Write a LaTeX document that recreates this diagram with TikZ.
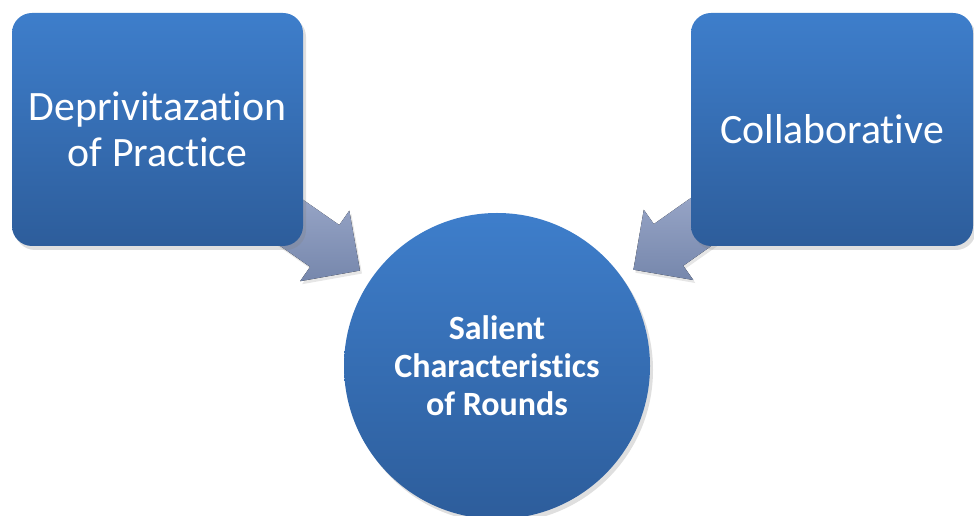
\documentclass[tikz,border=0pt]{standalone}
\usepackage{fontspec}
\setmainfont{Carlito}[RawFeature={-liga;-dlig;-clig;-calt}]
\usetikzlibrary{shadows,calc,backgrounds}
\definecolor{boxtop}{RGB}{62,126,203}
\definecolor{boxbot}{RGB}{45,93,155}
\definecolor{arrlight}{RGB}{158,171,204}
\definecolor{arrdark}{RGB}{118,135,172}
\begin{document}
\begin{tikzpicture}[x=1pt,y=1pt,
  softshadow/.style={drop shadow={opacity=0.25, shadow xshift=3pt, shadow yshift=-4pt}},
  blockbox/.style={rectangle, rounded corners=20pt, top color=boxtop, bottom color=boxbot,
    draw=none, minimum height=233pt, text=white, align=center,
    font=\fontsize{41.8}{46}\selectfont, inner sep=0pt, softshadow},
  hub/.style={circle, top color=boxtop, bottom color=boxbot, draw=none,
    minimum size=306pt, text=white, align=center, inner sep=0pt,
    font=\fontsize{34}{38}\selectfont\bfseries, softshadow},
  blockarrow/.style={top color=arrlight, bottom color=arrdark, draw=none,
    drop shadow={opacity=0.2, shadow xshift=2pt, shadow yshift=-3pt}}
]
\useasboundingbox (0,0) rectangle (974,516);
\clip (0,0) rectangle (974,516);

\node[blockbox, minimum width=291pt] (L) at (157.5,386.5) {Deprivitazation\\of Practice};
\node[blockbox, minimum width=282pt] (R) at (832,386.5) {Collaborative};
\node[hub] (C) at (497,150) {Salient\\Characteristics\\of Rounds};

\coordinate (tipL) at ($(C.center)!167pt!(L.center)$);
\coordinate (tipR) at ($(C.center)!167pt!(R.center)$);

\begin{scope}[on background layer]
  \begin{scope}[shift={(tipL)}, rotate=-34.9]
    \fill[blockarrow] (0,0) -- (-43,43) -- (-43,25.5) -- (-125,25.5) -- (-125,-25.5)
      -- (-43,-25.5) -- (-43,-43) -- cycle;
  \end{scope}
  \begin{scope}[shift={(tipR)}, rotate=-144.8]
    \fill[blockarrow] (0,0) -- (-43,43) -- (-43,25.5) -- (-125,25.5) -- (-125,-25.5)
      -- (-43,-25.5) -- (-43,-43) -- cycle;
  \end{scope}
\end{scope}
\end{tikzpicture}
\end{document}
